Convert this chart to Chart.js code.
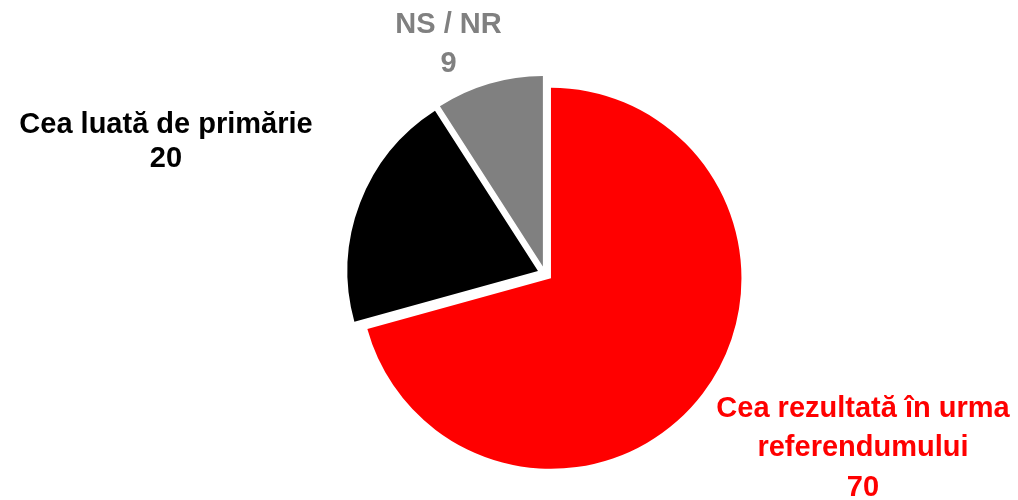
<!DOCTYPE html>
<html>
<head>
<meta charset="utf-8">
<script src="https://cdn.jsdelivr.net/npm/chart.js@4/dist/chart.umd.min.js"></script>
<style>
  html, body { margin: 0; padding: 0; background: #ffffff; }
  #wrap { width: 1018px; height: 500px; position: relative; }
</style>
</head>
<body>
<div id="wrap"><canvas id="c" width="1018" height="500"></canvas></div>
<script>
// ---- data ----
const categories = ["Cea rezultată în urma referendumului", "Cea luată de primărie", "NS / NR"];
const values = [70, 20, 9];
const labelLines = [
  ["Cea rezultată în urma", "referendumului", "70"],
  ["Cea luată de primărie", "20"],
  ["NS / NR", "9"]
];
const sliceColors = ["#ff0000", "#000000", "#808080"];

// ---- styling ----
const explodeDistance = 7.5;   // every slice pulled out from the centre along its mid-angle
const labelOffsets = [         // label anchor relative to pie centre
  { dx: 318, dy: 143, lh: 39.5 },
  { dx: -379, dy: -140.4, lh: 33.5 },
  { dx: -96.5, dy: -240.75, lh: 39 }
];

function pieCentre(chart) {
  const a = chart.chartArea;
  return { x: (a.left + a.right) / 2, y: (a.top + a.bottom) / 2 };
}

// Explode slices: move each arc's centre outwards along its own mid-angle
const explodePlugin = {
  id: 'explode',
  afterDatasetsUpdate(chart) {
    const c = pieCentre(chart);
    chart.getDatasetMeta(0).data.forEach(arc => {
      const mid = (arc.startAngle + arc.endAngle) / 2;
      arc.x = c.x + Math.cos(mid) * explodeDistance;
      arc.y = c.y + Math.sin(mid) * explodeDistance;
    });
  }
};

const labelPlugin = {
  id: 'sliceLabels',
  afterDatasetsDraw(chart) {
    const ctx = chart.ctx;
    const c = pieCentre(chart);
    ctx.save();
    ctx.font = 'bold 29px "Liberation Sans", Arial, sans-serif';
    ctx.textAlign = 'center';
    ctx.textBaseline = 'alphabetic';
    chart.getDatasetMeta(0).data.forEach((arc, i) => {
      const o = labelOffsets[i];
      ctx.fillStyle = sliceColors[i];
      labelLines[i].forEach((line, k) => {
        ctx.fillText(line, c.x + o.dx, c.y + o.dy + k * o.lh);
      });
    });
    ctx.restore();
  }
};

new Chart(document.getElementById('c'), {
  type: 'pie',
  data: {
    labels: categories,
    datasets: [{
      data: values,
      backgroundColor: sliceColors,
      borderWidth: 0,
      hoverOffset: 0,
      radius: 190.5
    }]
  },
  options: {
    responsive: false,
    animation: false,
    events: [],
    layout: { padding: { left: 72, right: 0, top: 47.5, bottom: 0 } },
    plugins: {
      legend: { display: false },
      tooltip: { enabled: false }
    }
  },
  plugins: [explodePlugin, labelPlugin]
});
</script>
</body>
</html>
